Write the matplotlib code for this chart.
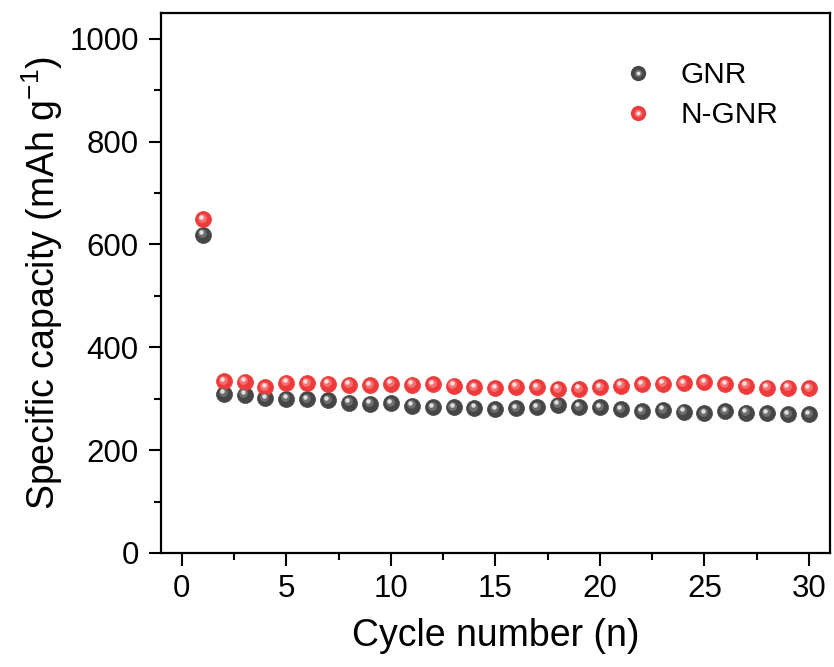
import matplotlib
matplotlib.use("Agg")
import matplotlib.pyplot as plt
from matplotlib.lines import Line2D
from matplotlib.legend_handler import HandlerTuple
from matplotlib.transforms import offset_copy
from matplotlib.ticker import MultipleLocator

plt.rcParams['font.family'] = ['Liberation Sans', 'DejaVu Sans']
plt.rcParams['mathtext.fontset'] = 'custom'
plt.rcParams['mathtext.rm'] = 'Liberation Sans'
plt.rcParams['mathtext.default'] = 'regular'

cycles = list(range(1, 31))
gnr = [619, 310, 308, 301, 300, 299, 297, 292, 290, 291,
       286, 283, 283, 282, 279, 281, 283, 288, 284, 283,
       279, 276, 278, 275, 272, 276, 273, 272, 270, 270]
ngnr = [649, 334, 333, 322, 331, 330, 329, 327, 326, 329,
        327, 328, 325, 322, 320, 323, 322, 319, 319, 322,
        325, 328, 329, 330, 332, 328, 325, 321, 321, 320]
labels = ['GNR', 'N-GNR']
xticks = [0, 5, 10, 15, 20, 25, 30]
yticks = [0, 200, 400, 600, 800, 1000]

fig = plt.figure(figsize=(8.34, 6.67), dpi=100)
ax = fig.add_axes([0.193, 0.171, 0.802, 0.8095])

styles = {
    'GNR': ('#464646', '#6e6e6e', '#e0e0e0'),
    'N-GNR': ('#ee3a3a', '#f57070', '#ffe0e0'),
}

def sphere(xs, ys, name, ms=11.5):
    base, mid, hi = styles[name]
    ax.plot(xs, ys, 'o', ms=ms, color=base, mec=base, mew=0.5, zorder=3)
    t1 = offset_copy(ax.transData, fig=fig, x=-0.8, y=1.0, units='points')
    ax.plot(xs, ys, 'o', ms=ms * 0.55, color=mid, mew=0, zorder=4, transform=t1)
    t2 = offset_copy(ax.transData, fig=fig, x=-1.3, y=1.8, units='points')
    ax.plot(xs, ys, 'o', ms=ms * 0.28, color=hi, mew=0, zorder=5, transform=t2)

sphere(cycles, gnr, 'GNR')
sphere(cycles, ngnr, 'N-GNR')

ax.set_xlim(-1, 31)
ax.set_ylim(0, 1050)
ax.set_xticks(xticks)
ax.set_yticks(yticks)
ax.xaxis.set_minor_locator(MultipleLocator(2.5))
ax.yaxis.set_minor_locator(MultipleLocator(100))
ax.tick_params(which='major', direction='out', length=9, width=1.5, labelsize=22.5)
ax.tick_params(axis='x', which='major', pad=6)
ax.tick_params(axis='y', which='major', pad=7)
ax.tick_params(which='minor', direction='out', length=5, width=1.5)
for s in ax.spines.values():
    s.set_linewidth(1.6)

ax.set_xlabel('Cycle number (n)', fontsize=27, labelpad=10)
ax.set_ylabel('Specific capacity (mAh g$^{-1}$)', fontsize=27, labelpad=3)

handles = []
for name in labels:
    base, mid, hi = styles[name]
    h1 = Line2D([], [], ls='', marker='o', ms=11, color=base, mew=0)
    h2 = Line2D([], [], ls='', marker='o', ms=5.5, color=mid, mew=0)
    h3 = Line2D([], [], ls='', marker='o', ms=2.8, color=hi, mew=0)
    handles.append((h1, h2, h3))
ax.legend(handles, labels, handler_map={tuple: HandlerTuple(ndivide=1, pad=0)},
          loc='upper left', bbox_to_anchor=(0.64, 0.96), frameon=False,
          fontsize=21.5, handlelength=1.5, handletextpad=0.65, labelspacing=0.4)

fig.savefig('out.png', dpi=100)
